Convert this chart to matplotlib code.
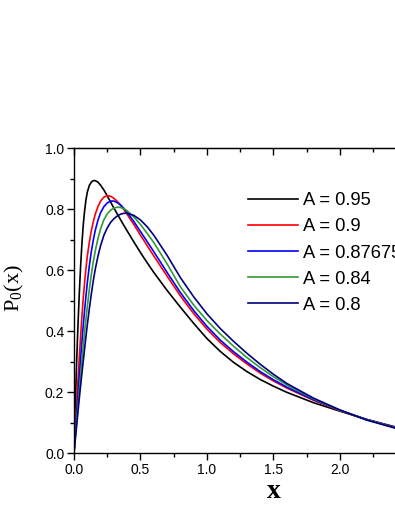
import numpy as np
import matplotlib
matplotlib.use("Agg")
import matplotlib.pyplot as plt
from matplotlib.ticker import MultipleLocator, FuncFormatter

plt.rcParams['font.family'] = ['Liberation Sans', 'DejaVu Sans']
plt.rcParams['mathtext.fontset'] = 'custom'
plt.rcParams['mathtext.rm'] = 'Liberation Serif'

# values
x_vals = [0, 0.01, 0.02, 0.03, 0.04, 0.05, 0.06, 0.07, 0.08, 0.09, 0.1, 0.115,
          0.13, 0.145, 0.16, 0.18, 0.2, 0.225, 0.25, 0.275, 0.3, 0.325, 0.35, 0.375,
          0.4, 0.45, 0.5, 0.55, 0.6, 0.7, 0.8, 0.9, 1.0, 1.1, 1.2, 1.3,
          1.4, 1.5, 1.6, 1.8, 2.0, 2.2, 2.42]

p_095 = [0, 0.16, 0.30, 0.42, 0.525, 0.615, 0.69, 0.75, 0.795, 0.83, 0.855, 0.877,
         0.888, 0.893, 0.893, 0.888, 0.878, 0.862, 0.843, 0.823, 0.803, 0.784, 0.765, 0.746,
         0.728, 0.692, 0.657, 0.624, 0.592, 0.533, 0.478, 0.425, 0.375, 0.333, 0.297, 0.267,
         0.241, 0.219, 0.199, 0.165, 0.137, 0.110, 0.085]
p_090 = [0, 0.085, 0.165, 0.24, 0.315, 0.385, 0.45, 0.51, 0.56, 0.605, 0.645, 0.69,
         0.728, 0.758, 0.783, 0.808, 0.826, 0.839, 0.844, 0.842, 0.835, 0.825, 0.813, 0.798,
         0.782, 0.749, 0.714, 0.68, 0.646, 0.58, 0.515, 0.457, 0.406, 0.362, 0.325, 0.292,
         0.262, 0.236, 0.213, 0.173, 0.139, 0.110, 0.084]
p_0877 = [0, 0.065, 0.13, 0.19, 0.25, 0.31, 0.368, 0.42, 0.47, 0.515, 0.558, 0.613,
          0.66, 0.698, 0.73, 0.763, 0.788, 0.808, 0.82, 0.826, 0.826, 0.821, 0.813, 0.802,
          0.789, 0.759, 0.726, 0.693, 0.66, 0.592, 0.526, 0.467, 0.415, 0.37, 0.332, 0.298,
          0.267, 0.240, 0.216, 0.175, 0.140, 0.110, 0.083]
p_084 = [0, 0.052, 0.104, 0.155, 0.205, 0.255, 0.305, 0.352, 0.398, 0.44, 0.48, 0.535,
         0.585, 0.627, 0.663, 0.703, 0.735, 0.765, 0.784, 0.796, 0.803, 0.806, 0.805, 0.801,
         0.794, 0.774, 0.749, 0.72, 0.69, 0.62, 0.545, 0.485, 0.434, 0.39, 0.350, 0.313,
         0.280, 0.250, 0.223, 0.178, 0.140, 0.109, 0.082]
p_080 = [0, 0.045, 0.09, 0.135, 0.18, 0.222, 0.263, 0.303, 0.343, 0.382, 0.42, 0.472,
         0.52, 0.565, 0.603, 0.645, 0.68, 0.714, 0.738, 0.756, 0.768, 0.777, 0.783, 0.786,
         0.786, 0.779, 0.764, 0.742, 0.714, 0.648, 0.575, 0.512, 0.456, 0.408, 0.366, 0.327,
         0.291, 0.258, 0.228, 0.180, 0.141, 0.108, 0.081]

series = [p_095, p_090, p_0877, p_084, p_080]
labels = ["A = 0.95", "A = 0.9", "A = 0.87675", "A = 0.84", "A = 0.8"]
colors = ["#000000", "#ff0000", "#0000ff", "#339933", "#000080"]

fig = plt.figure(figsize=(3.95, 5.11), dpi=100)
ax = fig.add_axes([0.18734, 0.11350, 1.01013, 0.59687])

for ys, lab, col in zip(series, labels, colors):
    ax.plot(x_vals, ys, color=col, lw=1.2, label=lab)

ax.set_xlim(0, 3.0)
ax.set_ylim(0, 1.0)
ax.xaxis.set_major_locator(MultipleLocator(0.5))
ax.xaxis.set_minor_locator(MultipleLocator(0.25))
ax.yaxis.set_major_locator(MultipleLocator(0.2))
ax.yaxis.set_minor_locator(MultipleLocator(0.1))
# labels past the cropped edge are not seen in the reference
ax.xaxis.set_major_formatter(FuncFormatter(lambda v, p: "%.1f" % v if v < 2.45 else ""))
ax.yaxis.set_major_formatter(plt.FormatStrFormatter('%.1f'))
ax.tick_params(which='both', direction='out', labelsize=10, width=1, pad=2)
ax.tick_params(which='major', length=5)
ax.tick_params(which='minor', length=3)
for sp in ax.spines.values():
    sp.set_linewidth(1)

# mirrored ticks on top, pointing inward
top = ax.secondary_xaxis('top')
top.xaxis.set_major_locator(MultipleLocator(0.5))
top.xaxis.set_minor_locator(MultipleLocator(0.25))
top.tick_params(which='both', direction='in', labeltop=False, width=1)
top.tick_params(which='major', length=5)
top.tick_params(which='minor', length=3)

ax.set_xlabel("x", fontsize=20, fontweight='bold', family='Liberation Serif')
ax.xaxis.set_label_coords(0.5, -0.085)
ax.set_ylabel(r"$\mathrm{P_0(x)}$", fontsize=16)
ax.yaxis.set_label_coords(-0.12, 0.54)

# the reference crops the widest label at the right edge as well
ax.legend(loc='upper left', bbox_to_anchor=(0.436, 0.855), frameon=False,
          fontsize=13.2, handlelength=2.73, handletextpad=0.27, labelspacing=0.5,
          borderpad=0, borderaxespad=0)

fig.savefig("out.png", dpi=100)
